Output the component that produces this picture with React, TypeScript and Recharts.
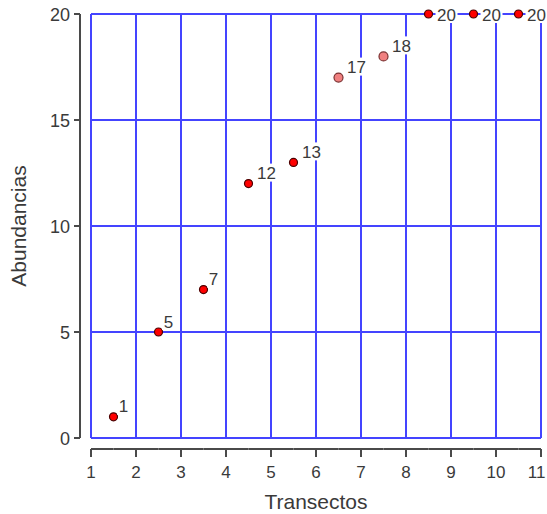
import React from 'react';
import { ScatterChart, Scatter, XAxis, YAxis, CartesianGrid } from 'recharts';

// Transect midpoints and the abundance counted in each one
const transectMidpoints = [1.5, 2.5, 3.5, 4.5, 5.5, 6.5, 7.5, 8.5, 9.5, 10.5];
const abundances = [1, 5, 7, 12, 13, 17, 18, 20, 20, 20];
const xTicks = [1, 2, 3, 4, 5, 6, 7, 8, 9, 10, 11];
const yTicks = [0, 5, 10, 15, 20];
// Transects drawn with the lighter marker
const highlightedTransects = [6.5, 7.5];

const data = transectMidpoints.map((x, i) => ({ x, y: abundances[i] }));

const WIDTH = 547;
const HEIGHT = 514;
const Y_AXIS_W = 91;
const X_AXIS_H = 76;
const MARGIN = { top: 14, right: 6, left: 0, bottom: 0 };
const PLOT_LEFT = MARGIN.left + Y_AXIS_W;
const PLOT_RIGHT = WIDTH - MARGIN.right;
const PLOT_TOP = MARGIN.top;
const PLOT_BOTTOM = HEIGHT - MARGIN.bottom - X_AXIS_H;
const AXIS_GAP = 11;
const X_STEP = (PLOT_RIGHT - PLOT_LEFT) / (xTicks.length - 1);
const Y_STEP = (PLOT_BOTTOM - PLOT_TOP) / (yTicks.length - 1);

const FONT = '"Liberation Sans", Arial, sans-serif';
const AXIS_COLOR = '#4a4a4a';
const TEXT_COLOR = '#3a3a3a';
const GRID_COLOR = '#4444ff';
const X_TICK_FONT = 17;

// Bottom axis, drawn a little below the plot area
const XTick = (props: any) => {
  const { x, payload } = props;
  const ay = PLOT_BOTTOM + AXIS_GAP;
  const x1 = Math.max(PLOT_LEFT, x - X_STEP / 2);
  const x2 = Math.min(PLOT_RIGHT, x + X_STEP / 2);
  const label = String(payload.value);
  // keep the last label inside the chart's right edge
  const halfW = (label.length * 0.556 * X_TICK_FONT) / 2;
  const tx = Math.min(x, WIDTH - 1 - halfW);
  return (
    <g>
      <line x1={x1} x2={x2} y1={ay} y2={ay} stroke={AXIS_COLOR} strokeWidth={2} />
      <line x1={x} x2={x} y1={ay} y2={ay + 8} stroke={AXIS_COLOR} strokeWidth={2} />
      <text x={tx} y={ay + 23} textAnchor="middle" dominantBaseline="central" fontSize={X_TICK_FONT} fontFamily={FONT} fill={TEXT_COLOR}>
        {label}
      </text>
    </g>
  );
};

// Left axis, drawn a little to the left of the plot area
const YTick = (props: any) => {
  const { y, payload } = props;
  const ax = PLOT_LEFT - AXIS_GAP;
  const y1 = Math.max(PLOT_TOP, y - Y_STEP / 2);
  const y2 = Math.min(PLOT_BOTTOM, y + Y_STEP / 2);
  return (
    <g>
      <line x1={ax} x2={ax} y1={y1} y2={y2} stroke={AXIS_COLOR} strokeWidth={2} />
      <line x1={ax} x2={ax - 6} y1={y} y2={y} stroke={AXIS_COLOR} strokeWidth={2} />
      <text x={ax - 10} y={y + 1} textAnchor="end" dominantBaseline="central" fontSize={18} fontFamily={FONT} fill={TEXT_COLOR}>
        {payload.value}
      </text>
    </g>
  );
};

// Marker plus its value label on a white box
const PointWithLabel = (props: any) => {
  const { cx, cy, payload } = props;
  if (cx == null || cy == null) return null;
  const light = highlightedTransects.includes(payload.x);
  const text = String(payload.y);
  const tw = text.length * 9;
  const lx = cx + (text.length === 1 ? 10 : 18);
  const ly = Math.max(cy - 11, PLOT_TOP);
  return (
    <g>
      <circle
        cx={cx}
        cy={cy}
        r={light ? 4.5 : 4}
        fill={light ? '#f08080' : '#ff0000'}
        stroke={light ? '#7a3030' : '#4a0000'}
        strokeWidth={1.2}
      />
      <rect x={lx - tw / 2 - 2} y={ly - 9} width={tw + 4} height={18} fill="#ffffff" />
      <text x={lx} y={ly + 1} textAnchor="middle" dominantBaseline="central" fontSize={17} fontFamily={FONT} fill={TEXT_COLOR}>
        {text}
      </text>
    </g>
  );
};

export default function App() {
  return (
    <div style={{ position: 'absolute', left: 0, top: 0 }}>
      <ScatterChart width={WIDTH} height={HEIGHT} margin={MARGIN} style={{ fontFamily: FONT }}>
        <CartesianGrid stroke={GRID_COLOR} strokeWidth={2} />
        <XAxis
          type="number"
          dataKey="x"
          domain={[1, 11]}
          ticks={xTicks}
          interval={0}
          height={X_AXIS_H}
          axisLine={false}
          tickLine={false}
          tick={<XTick />}
          label={{
            content: () => (
              <text
                x={(PLOT_LEFT + PLOT_RIGHT) / 2}
                y={PLOT_BOTTOM + 63}
                textAnchor="middle"
                dominantBaseline="central"
                fontSize={21}
                fontFamily={FONT}
                fill={TEXT_COLOR}
              >
                Transectos
              </text>
            ),
          }}
        />
        <YAxis
          type="number"
          dataKey="y"
          domain={[0, 20]}
          ticks={yTicks}
          interval={0}
          width={Y_AXIS_W}
          axisLine={false}
          tickLine={false}
          tick={<YTick />}
          label={{
            content: () => {
              const cx = 18;
              const cy = (PLOT_TOP + PLOT_BOTTOM) / 2;
              return (
                <text
                  x={cx}
                  y={cy}
                  transform={`rotate(-90 ${cx} ${cy})`}
                  textAnchor="middle"
                  dominantBaseline="central"
                  fontSize={21}
                  fontFamily={FONT}
                  fill={TEXT_COLOR}
                >
                  Abundancias
                </text>
              );
            },
          }}
        />
        <Scatter data={data} shape={<PointWithLabel />} isAnimationActive={false} />
      </ScatterChart>
    </div>
  );
}
